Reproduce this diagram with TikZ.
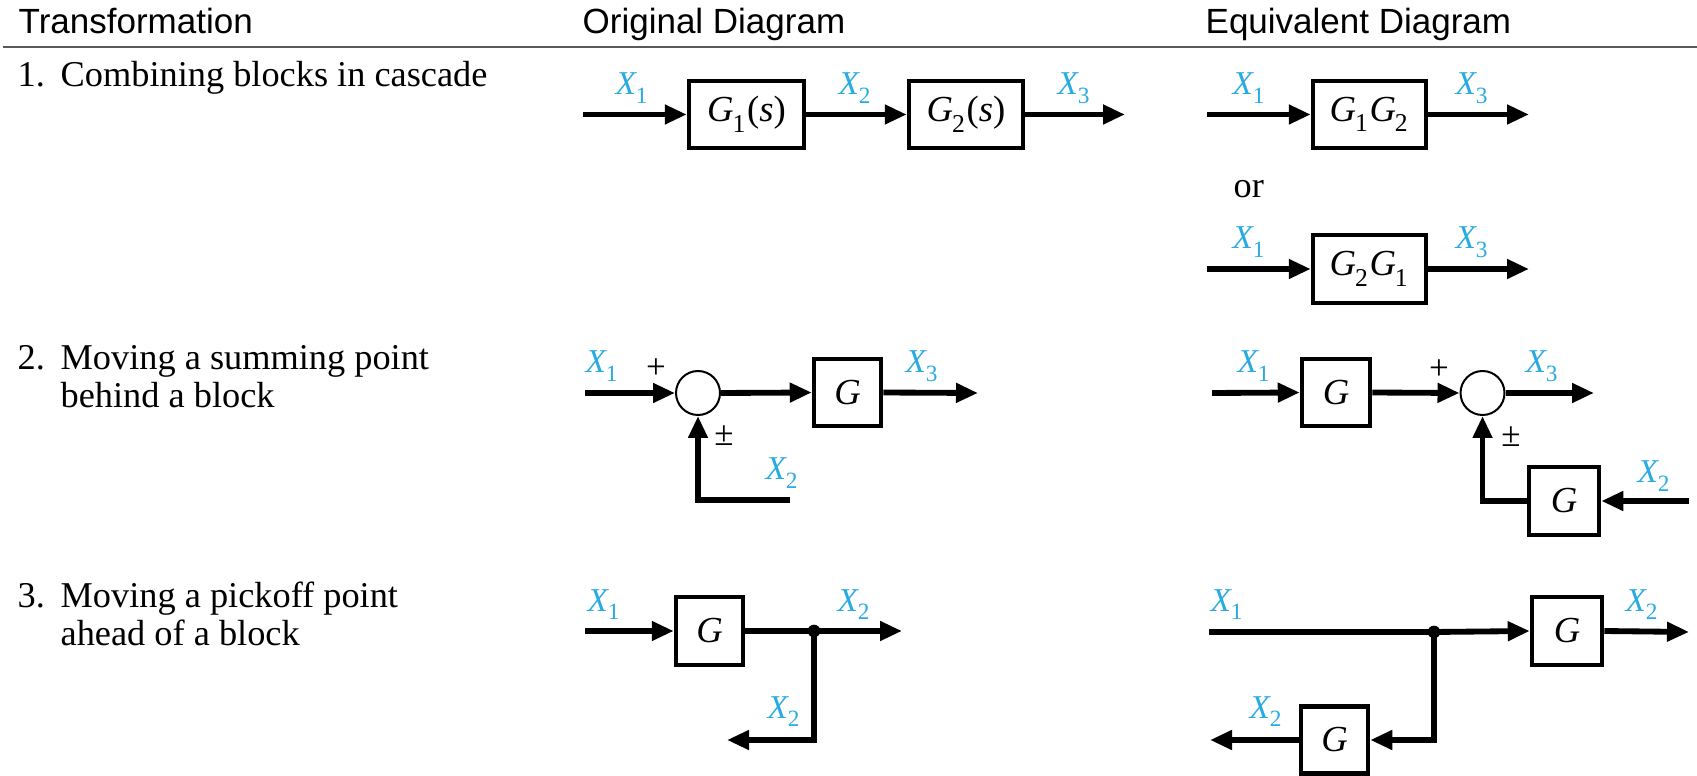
\documentclass[tikz,border=0pt]{standalone}
\usepackage{fontspec}
\setmainfont{Liberation Serif}
\newfontfamily\hdr{Liberation Sans}
\usetikzlibrary{arrows.meta}
\definecolor{xblue}{RGB}{41,171,226}
\definecolor{rulegray}{RGB}{90,90,90}
\newcommand\Xs[1]{\textit{X}\kern-0.04em\raisebox{-0.2ex}{\textsubscript{#1}}}
\newcommand\Gs[1]{\textit{G}\kern-0.03em\raisebox{-0.3ex}{\textsubscript{#1}}}
\tikzset{
  hd/.style={font=\hdr\fontsize{10.5pt}{12pt}\selectfont, anchor=base west, inner sep=0pt},
  tx/.style={font=\fontsize{10.9pt}{12pt}\selectfont, anchor=base west, inner sep=0pt},
  lb/.style={font=\fontsize{10pt}{11pt}\selectfont, text=xblue, anchor=base west, inner sep=0pt},
  sgn/.style={font=\fontsize{10.5pt}{11pt}\selectfont, inner sep=0pt},
  blk/.style={draw, line width=1.35pt, inner sep=0pt, font=\fontsize{11pt}{12pt}\selectfont},
  bx/.style args={#1x#2}{minimum width=#1*0.3pt, minimum height=#2*0.3pt},
  sum/.style={draw, circle, line width=0.6pt, minimum size=13.2pt, inner sep=0pt},
  sig/.style={line width=1.75pt, -{Triangle[length=6.6pt,width=5.6pt]}},
  wire/.style={line width=1.75pt},
  pick/.style={circle, fill, minimum size=3.8pt, inner sep=0pt},
}
\begin{document}
\begin{tikzpicture}[x=0.3pt,y=-0.3pt]
\useasboundingbox (0,0) rectangle (1697,776);
% header
\node[hd] (h1) at (18,34) {Transformation};
\node[hd] (h2) at (582,34) {Original Diagram};
\node[hd] (h3) at (1205,34) {Equivalent Diagram};
\coordinate (rl) at (3,47);
\coordinate (rr) at (1697,47);
\draw[rulegray, line width=0.7pt] (rl) -- (rr);
% row texts
\node[tx] (n1) at (17,87) {1.};
\node[tx] (t1) at (60,87) {Combining blocks in cascade};
\node[tx] (n2) at (17,370) {2.};
\node[tx] (t2a) at (60,370) {Moving a summing point};
\node[tx] (t2b) at (60,408) {behind a block};
\node[tx] (n3) at (17,607) {3.};
\node[tx] (t3a) at (60,607) {Moving a pickoff point};
\node[tx] (t3b) at (60,645) {ahead of a block};

% ---------- row 1 original
\coordinate (i11) at (583,114.5);
\node[blk, bx=115x67] (b11) at (746.5,114.5) {\Gs{1}(\textit{s})};
\node[blk, bx=114x67] (b12) at (966,114.5) {\Gs{2}(\textit{s})};
\coordinate (o11) at (1125,114.5);
\draw[sig] (i11) -- (b11.west);
\draw[sig] (b11.east) -- (b12.west);
\draw[sig] (b12.east) -- (o11);
\node[lb] (l11) at (615,95) {\Xs{1}};
\node[lb] (l12) at (838,95) {\Xs{2}};
\node[lb] (l13) at (1057,95) {\Xs{3}};

% ---------- row 1 equivalent
\coordinate (i12) at (1207,114.5);
\node[blk, bx=113x67] (b13) at (1369.5,114.5) {\Gs{1}\Gs{2}};
\coordinate (o12) at (1529,114.5);
\draw[sig] (i12) -- (b13.west);
\draw[sig] (b13.east) -- (o12);
\node[lb] (l14) at (1232,95) {\Xs{1}};
\node[lb] (l15) at (1455,95) {\Xs{3}};
\node[tx] (or1) at (1233,198) {or};
\coordinate (i13) at (1207,269);
\node[blk, bx=113x68] (b14) at (1369.5,269) {\Gs{2}\Gs{1}};
\coordinate (o13) at (1529,269);
\draw[sig] (i13) -- (b14.west);
\draw[sig] (b14.east) -- (o13);
\node[lb] (l16) at (1232,249) {\Xs{1}};
\node[lb] (l17) at (1455,249) {\Xs{3}};

% ---------- row 2 original
\coordinate (i21) at (585,393);
\node[sum] (s21) at (698,393) {};
\node[blk, bx=67x67] (b21) at (847.5,392.5) {\textit{G}};
\coordinate (o21) at (978,393);
\coordinate (f21) at (790,500);
\draw[sig] (i21) -- (s21.west);
\draw[sig] (s21.east) -- (b21.west);
\draw[sig] (b21.east) -- (o21);
\draw[sig] (f21) -| (s21.south);
\node[lb] (l21) at (585,373) {\Xs{1}};
\node[lb] (l22) at (905,373) {\Xs{3}};
\node[lb] (l23) at (765,480) {\Xs{2}};
\node[sgn] (p21) at (656,369) {+};
\node[sgn] (m21) at (724,436) {±};

% ---------- row 2 equivalent
\coordinate (i22) at (1212,393);
\node[blk, bx=68x67] (b22) at (1336,392.5) {\textit{G}};
\node[sum] (s22) at (1482.5,393) {};
\coordinate (o22) at (1594,393);
\node[blk, bx=70x68] (b23) at (1564,501) {\textit{G}};
\coordinate (i23) at (1689,501);
\draw[sig] (i22) -- (b22.west);
\draw[sig] (b22.east) -- (s22.west);
\draw[sig] (s22.east) -- (o22);
\draw[sig] (i23) -- (b23.east);
\draw[sig] (b23.west) -| (s22.south);
\node[lb] (l24) at (1237,373) {\Xs{1}};
\node[lb] (l25) at (1525,373) {\Xs{3}};
\node[lb] (l26) at (1637,483) {\Xs{2}};
\node[sgn] (p22) at (1439,370) {+};
\node[sgn] (m22) at (1511,437) {±};

% ---------- row 3 original
\coordinate (i31) at (585,631);
\node[blk, bx=67x68] (b31) at (709.5,631) {\textit{G}};
\node[pick] (d31) at (814,631) {};
\coordinate (o31) at (902,631);
\coordinate (o32) at (727,740);
\draw[sig] (i31) -- (b31.west);
\draw[wire] (b31.east) -- (d31.center);
\draw[sig] (d31.center) -- (o31);
\draw[sig] (d31.center) |- (o32);
\node[lb] (l31) at (587,611) {\Xs{1}};
\node[lb] (l32) at (837,611) {\Xs{2}};
\node[lb] (l33) at (767,718) {\Xs{2}};

% ---------- row 3 equivalent
\coordinate (i32) at (1209,632);
\node[pick] (d32) at (1434,632) {};
\node[blk, bx=70x68] (b32) at (1567,631) {\textit{G}};
\coordinate (o33) at (1689,632);
\node[blk, bx=67x67] (b33) at (1334.5,740) {\textit{G}};
\coordinate (o34) at (1210,740);
\draw[wire] (i32) -- (d32.center);
\draw[sig] (d32.center) -- (b32.west);
\draw[sig] (b32.east) -- (o33);
\draw[sig] (d32.center) |- (b33.east);
\draw[sig] (b33.west) -- (o34);
\node[lb] (l34) at (1210,611) {\Xs{1}};
\node[lb] (l35) at (1625,611) {\Xs{2}};
\node[lb] (l36) at (1249,718) {\Xs{2}};
\end{tikzpicture}
\end{document}
